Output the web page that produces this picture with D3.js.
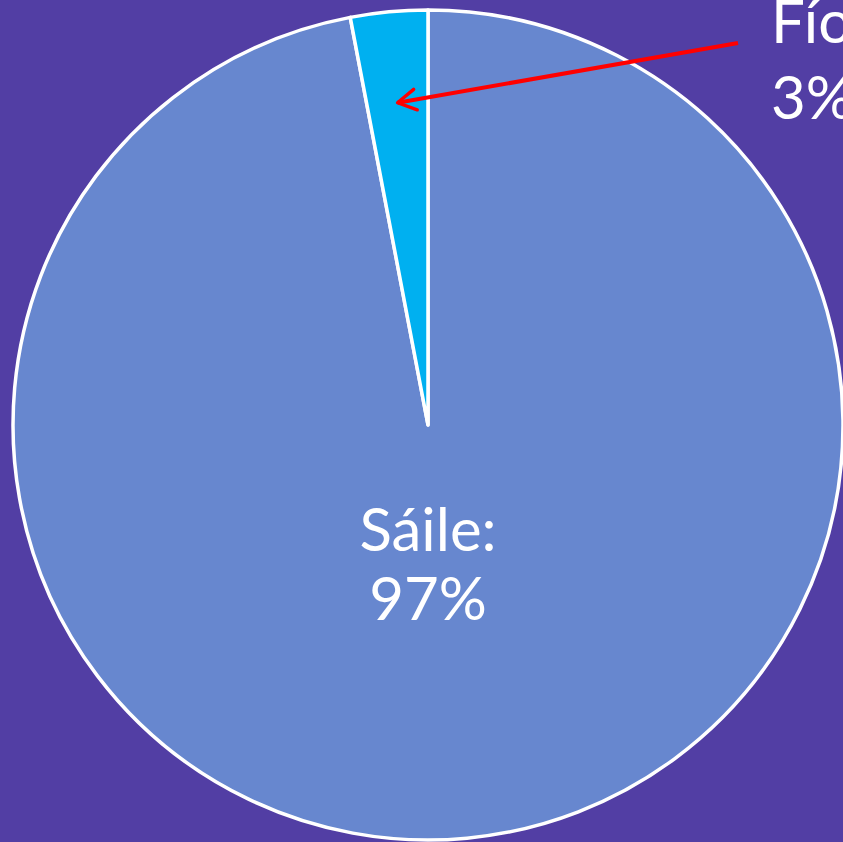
<!DOCTYPE html>
<html>
<head>
<meta charset="utf-8">
<script src="https://cdn.jsdelivr.net/npm/d3@7"></script>
<style>
  html, body { margin: 0; padding: 0; background: #523ea4; overflow: hidden; }
  #container { width: 843px; height: 842px; }
</style>
</head>
<body>
<div id="container"></div>
<script>
// 数据
const categories = ["Sáile", "Fíor"];
const values = [97, 3];
const colors = ["#6787cf", "#00b0f0"];

const width = 843;
const height = 842;
const cx = 428, cy = 425, radius = 415;

const svg = d3
  .select("#container")
  .append("svg")
  .attr("width", width)
  .attr("height", height)
  .attr("viewBox", [0, 0, width, height]);

svg.append("rect").attr("width", width).attr("height", height).attr("fill", "#523ea4");

const data = categories.map((c, i) => ({ name: c, value: values[i], color: colors[i] }));

// 饼图生成器，按顺序排列
const pie = d3.pie().sort(null).value((d) => d.value);
const arc = d3.arc().innerRadius(0).outerRadius(radius);
const arcs = pie(data);

const g = svg.append("g").attr("transform", `translate(${cx},${cy})`);

g.selectAll("path")
  .data(arcs)
  .join("path")
  .attr("d", arc)
  .attr("fill", (d) => d.data.color)
  .attr("stroke", "#fff")
  .attr("stroke-width", 3.5)
  .attr("stroke-linejoin", "round");

// 标签
const font = "Lato, 'Open Sans', sans-serif";

const big = arcs[0];
g.append("text")
  .attr("text-anchor", "middle")
  .attr("fill", "#fff")
  .attr("font-family", font)
  .attr("font-size", 60)
  .call((t) => t.append("tspan").attr("x", 0).attr("y", 126).text(`${big.data.name}:`))
  .call((t) => t.append("tspan").attr("x", 0).attr("y", 195).text(`${big.data.value}%`));

// 小扇区的标签（在右上角，被画面边缘裁掉一部分）
const small = arcs[1];
svg.append("text")
  .attr("fill", "#fff")
  .attr("font-family", font)
  .attr("font-size", 60)
  .call((t) => t.append("tspan").attr("x", 771).attr("y", 43).text(`${small.data.name}:`))
  .call((t) => t.append("tspan").attr("x", 771).attr("y", 119).text(`${small.data.value}%`));

// 指示箭头
const defs = svg.append("defs");
defs.append("marker")
  .attr("id", "arrow")
  .attr("viewBox", "0 0 10 10")
  .attr("refX", 9)
  .attr("refY", 5)
  .attr("markerWidth", 6.5)
  .attr("markerHeight", 6.5)
  .attr("orient", "auto")
  .append("path")
  .attr("d", "M2,1 L9,5 L2,9")
  .attr("fill", "none")
  .attr("stroke", "#ff0000")
  .attr("stroke-width", 1.3)
  .attr("stroke-linecap", "round")
  .attr("stroke-linejoin", "round");

const mid = (small.startAngle + small.endAngle) / 2;
const ax = cx + Math.sin(mid) * radius * 0.78;
const ay = cy - Math.cos(mid) * radius * 0.78;
svg.append("line")
  .attr("x1", 738).attr("y1", 43)
  .attr("x2", ax).attr("y2", ay)
  .attr("stroke", "#ff0000")
  .attr("stroke-width", 4)
  .attr("marker-end", "url(#arrow)");
</script>
</body>
</html>
